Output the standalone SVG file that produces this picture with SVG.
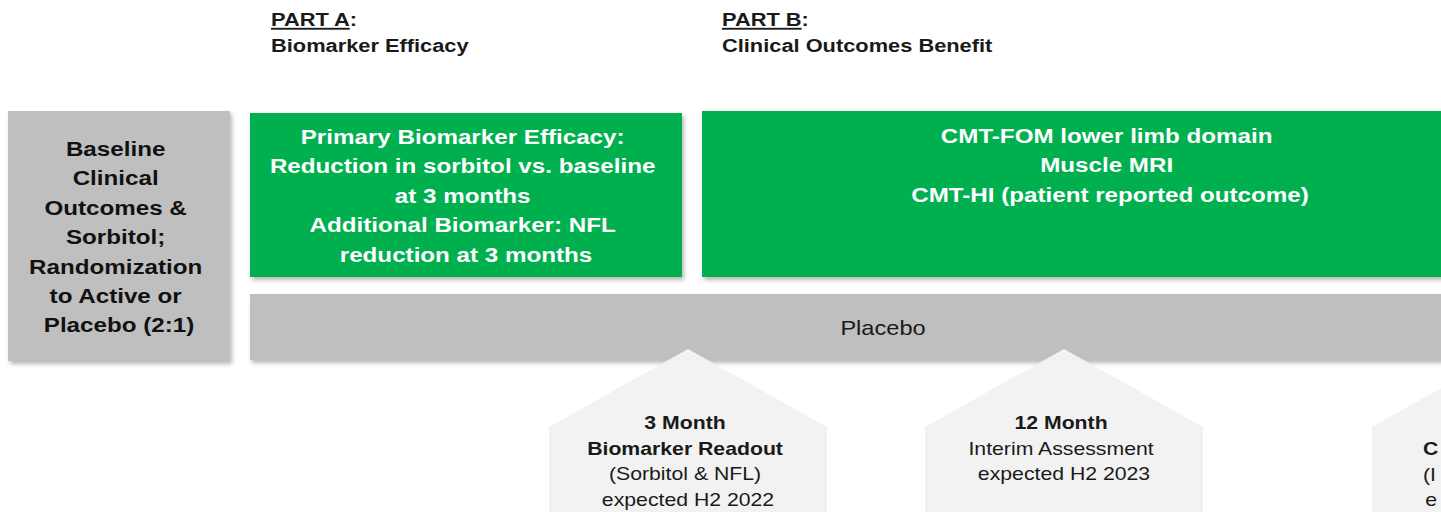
<svg xmlns="http://www.w3.org/2000/svg" width="1441" height="512" viewBox="0 0 1441 512">
  <defs>
    <filter id="shadow" x="-5%" y="-10%" width="115%" height="130%">
      <feDropShadow dx="2" dy="3" stdDeviation="2" flood-color="#000" flood-opacity="0.28"/>
    </filter>
    <style>
      text { font-family: "Liberation Sans", Arial, sans-serif; }
      .gray { fill: #bfbfbf; filter: url(#shadow); }
      .green { fill: #00b050; filter: url(#shadow); }
      .milestone { fill: #f2f2f2; }
      .head { font-size: 18.5px; font-weight: bold; fill: #1a1a1a; }
      .dark { font-size: 20.5px; font-weight: bold; fill: #111; text-anchor: middle; }
      .light { font-size: 20.5px; font-weight: bold; fill: #fff; text-anchor: middle; }
      .bar { font-size: 20px; fill: #1a1a1a; text-anchor: middle; }
      .ms { font-size: 18px; fill: #1a1a1a; text-anchor: middle; }
      .ms-l { font-size: 18px; fill: #1a1a1a; }
      .b { font-weight: bold; }
    </style>
  </defs>

  <!-- phase headings -->
  <g id="part-a-heading">
    <text class="head" transform="translate(271 26) scale(1.18 1)"><tspan x="0" y="0" text-decoration="underline">PART A</tspan><tspan>:</tspan><tspan x="0" y="26">Biomarker Efficacy</tspan></text>
  </g>
  <g id="part-b-heading">
    <text class="head" transform="translate(722 26) scale(1.18 1)"><tspan x="0" y="0" text-decoration="underline">PART B</tspan><tspan>:</tspan><tspan x="0" y="26">Clinical Outcomes Benefit</tspan></text>
  </g>

  <!-- baseline / randomization -->
  <g id="baseline">
    <rect class="gray" x="8" y="111" width="222" height="250"/>
    <text class="dark" transform="translate(119 156) scale(1.18 1)">
      <tspan x="0" y="0">Baseline</tspan>
      <tspan x="0" dy="29.4">Clinical</tspan>
      <tspan x="0" dy="29.4">Outcomes &amp;</tspan>
      <tspan x="0" dy="29.4">Sorbitol;</tspan>
      <tspan x="0" dy="29.4">Randomization</tspan>
      <tspan x="0" dy="29.4">to Active or</tspan>
      <tspan x="0" dy="29.4">Placebo (2:1)</tspan>
    </text>
  </g>

  <!-- Part A endpoints -->
  <g id="part-a-endpoints">
    <rect class="green" x="250" y="113" width="432" height="164"/>
    <text class="light" transform="translate(466 144) scale(1.18 1)">
      <tspan x="0" y="0">Primary Biomarker Efficacy:</tspan>
      <tspan x="0" dy="29.5">Reduction in sorbitol vs. baseline</tspan>
      <tspan x="0" dy="29.5">at 3 months</tspan>
      <tspan x="0" dy="29.5">Additional Biomarker: NFL</tspan>
      <tspan x="0" dy="29.5">reduction at 3 months</tspan>
    </text>
  </g>

  <!-- Part B endpoints -->
  <g id="part-b-endpoints">
    <rect class="green" x="702" y="111" width="760" height="166"/>
    <text class="light" transform="translate(1110 143) scale(1.18 1)">
      <tspan x="0" y="0">CMT-FOM lower limb domain</tspan>
      <tspan x="0" dy="29.5">Muscle MRI</tspan>
      <tspan x="0" dy="29.5">CMT-HI (patient reported outcome)</tspan>
    </text>
  </g>

  <!-- placebo arm -->
  <g id="placebo">
    <rect class="gray" x="250" y="294" width="1212" height="66"/>
    <text class="bar" transform="translate(883 335) scale(1.18 1)">Placebo</text>
  </g>

  <!-- milestones -->
  <g id="milestone-3-month">
    <polygon class="milestone" points="688,349 827,427 827,530 549,530 549,427"/>
    <text class="ms" transform="translate(688 429) scale(1.18 1)">
      <tspan x="0" y="0" class="b">3 Month</tspan>
      <tspan x="0" dy="25.7" class="b">Biomarker Readout</tspan>
      <tspan x="0" dy="25.7">(Sorbitol &amp; NFL)</tspan>
      <tspan x="0" dy="25.7">expected H2 2022</tspan>
    </text>
  </g>
  <g id="milestone-12-month">
    <polygon class="milestone" points="1064,349 1203,427 1203,530 925,530 925,427"/>
    <text class="ms" transform="translate(1064 429) scale(1.18 1)">
      <tspan x="0" y="0" class="b">12 Month</tspan>
      <tspan x="0" dy="25.7">Interim Assessment</tspan>
      <tspan x="0" dy="25.7">expected H2 2023</tspan>
    </text>
  </g>
  <g id="milestone-final">
    <polygon class="milestone" points="1511,349 1650,427 1650,530 1372,530 1372,427"/>
    <text class="ms-l" transform="translate(1423 455) scale(1.18 1)">
      <tspan x="0" y="0" class="b">C</tspan>
      <tspan x="0" dy="25.7">(I</tspan>
      <tspan x="2" dy="25.7">e</tspan>
    </text>
  </g>

  <g id="connectors"/>
</svg>
